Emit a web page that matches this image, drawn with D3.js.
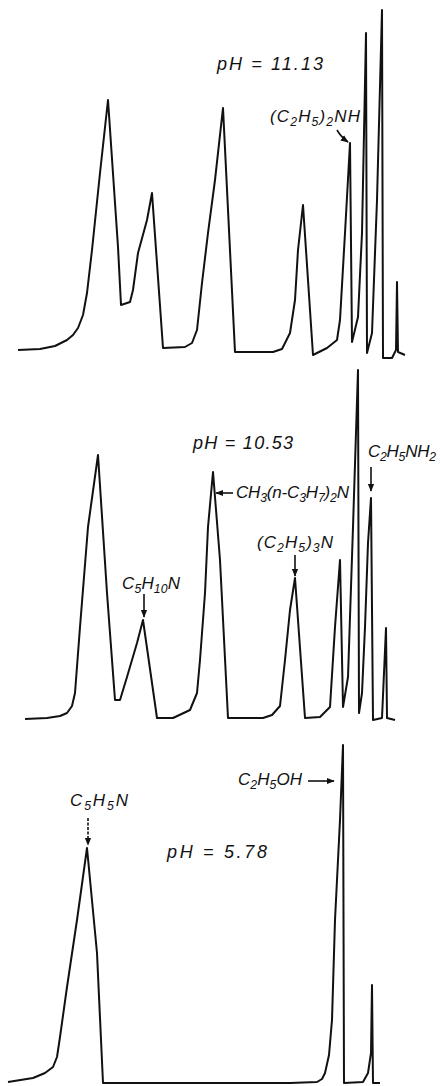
<!DOCTYPE html>
<meta charset="utf-8">
<style>
  body { margin: 0; background-color: #fff; }
  .trace { fill: none; stroke: #111; stroke-width: 2px; stroke-linejoin: round; }
  .lbl { font-family: "Liberation Sans", sans-serif; font-style: italic; fill: #111; }
  .arrow { stroke: #111; stroke-width: 1.6px; fill: none; }
</style>
<svg width="440" height="1086"></svg>
<script src="https://d3js.org/d3.v7.min.js"></script>
<script>
  // panel 1, pH 11.13 : retention position and detector response
  var time1 = [18, 40, 55, 67, 73, 78, 83, 87, 92, 100, 108, 118, 121, 130, 133, 138, 147, 152,
    163, 185, 192, 197, 202, 208, 215, 223, 235, 273, 282, 290, 295, 298, 303,
    313, 327, 337, 340, 345, 350, 352, 358, 362, 366, 367, 372, 377, 382,
    383, 392, 396, 397, 398, 405];
  var resp1 = [2, 3, 6, 12, 17, 24, 37, 59, 102, 179, 252, 105, 47, 50, 62, 99, 132, 159,
    4, 5, 9, 22, 69, 119, 172, 244, 0, 0, 3, 19, 52, 102, 147,
    -3, 4, 12, 32, 119, 209, 10, 35, 119, 319, -1, 19, 152, 342,
    -6, -6, 2, 70, 0, -3];

  // panel 2, pH 10.53
  var time2 = [25, 47, 60, 67, 72, 75, 80, 88, 98, 107, 115, 120, 127, 137, 143,
    157, 173, 190, 197, 200, 205, 208, 213, 220, 228, 263, 272, 280, 285, 290, 295,
    305, 320, 330, 335, 340, 343, 348, 353, 358, 359, 362, 365, 368, 371,
    373, 382, 386, 387, 395];
  var resp2 = [-1, 0, 2, 5, 12, 25, 91, 191, 263, 125, 18, 18, 41, 75, 98,
    0, 0, 8, 25, 58, 125, 191, 246, 158, 0, 0, 3, 12, 58, 108, 140,
    0, 1, 11, 91, 158, 11, 41, 191, 348, 5, 25, 91, 175, 220,
    -2, 0, 90, 0, -2];

  // panel 3, pH 5.78
  var time3 = [8, 33, 45, 53, 57, 60, 67, 77, 87, 97, 103, 290, 317, 322, 325, 329, 332, 335, 340, 343,
    344, 363, 368, 371, 372, 373, 380];
  var resp3 = [1, 5, 10, 16, 26, 46, 96, 163, 235, 130, 0, 0, 1, 4, 10, 28, 63, 163, 263, 338,
    0, 1, 10, 30, 98, 0, 0];

  var pHLabels = ["pH = 11.13", "pH = 10.53", "pH = 5.78"];

  var svg = d3.select("svg");
  var x = d3.scaleLinear().domain([0, 440]).range([0, 440]);

  var panels = [
    { t: time1, r: resp1, base: 352 },
    { t: time2, r: resp2, base: 718 },
    { t: time3, r: resp3, base: 1083 }
  ];

  panels.forEach(function (p) {
    var y = d3.scaleLinear().domain([0, 350]).range([p.base, p.base - 350]);
    var pts = p.t.map(function (d, i) { return [d, p.r[i]]; });
    var line = d3.line()
      .x(function (d) { return x(d[0]); })
      .y(function (d) { return y(d[1]); });
    svg.append("path").attr("class", "trace").attr("d", line(pts));
  });

  svg.append("defs").append("marker")
    .attr("id", "ah").attr("viewBox", "0 0 10 10")
    .attr("refX", 9).attr("refY", 5)
    .attr("markerWidth", 5).attr("markerHeight", 5)
    .attr("orient", "auto")
    .append("path").attr("d", "M0,1 L10,5 L0,9 z").attr("fill", "#111");

  // pH labels
  var pHPos = [[217, 70], [193, 449], [167, 858]];
  var pHWidth = [106, 100, 100];
  pHLabels.forEach(function (s, i) {
    svg.append("text").attr("class", "lbl")
      .attr("x", pHPos[i][0]).attr("y", pHPos[i][1])
      .attr("textLength", pHWidth[i]).attr("lengthAdjust", "spacing")
      .attr("font-size", 18).text(s);
  });

  // formula label helper: parts are [text, isSub]
  function formula(xp, yp, parts, w) {
    var size = 17;
    var t = svg.append("text").attr("class", "lbl")
      .attr("x", xp).attr("y", yp).attr("font-size", size)
      .attr("textLength", w).attr("lengthAdjust", "spacing");
    var prevSub = false;
    parts.forEach(function (p) {
      var ts = t.append("tspan").text(p[0]);
      if (p[1]) {
        ts.attr("font-size", size * 0.72).attr("dy", prevSub ? 0 : 4);
      } else {
        ts.attr("dy", prevSub ? -4 : 0);
      }
      prevSub = p[1];
    });
    return t;
  }

  function arrow(x1, y1, x2, y2, dash) {
    svg.append("line").attr("class", "arrow")
      .attr("x1", x1).attr("y1", y1).attr("x2", x2).attr("y2", y2)
      .attr("stroke-dasharray", dash ? "3,1.5" : null)
      .attr("marker-end", "url(#ah)");
  }

  formula(270, 122, [["(C", 0], ["2", 1], ["H", 0], ["5", 1], [")", 0], ["2", 1], ["NH", 0]], 90);
  svg.append("path").attr("class", "arrow")
    .attr("d", "M337,130 Q341,137 348,142").attr("marker-end", "url(#ah)");

  formula(368, 457, [["C", 0], ["2", 1], ["H", 0], ["5", 1], ["NH", 0], ["2", 1]], 68);
  arrow(371, 467, 371, 491);

  formula(236, 498, [["CH", 0], ["3", 1], ["(n-C", 0], ["3", 1], ["H", 0], ["7", 1], [")", 0], ["2", 1], ["N", 0]], 113);
  arrow(233, 493, 216, 493);

  formula(257, 548, [["(C", 0], ["2", 1], ["H", 0], ["5", 1], [")", 0], ["3", 1], ["N", 0]], 76);
  arrow(295, 555, 295, 576);

  formula(122, 589, [["C", 0], ["5", 1], ["H", 0], ["10", 1], ["N", 0]], 58);
  arrow(144, 594, 144, 617);

  formula(70, 806, [["C", 0], ["5", 1], ["H", 0], ["5", 1], ["N", 0]], 58);
  arrow(88, 818, 88, 845, true);

  formula(238, 785, [["C", 0], ["2", 1], ["H", 0], ["5", 1], ["OH", 0]], 64);
  arrow(308, 781, 334, 781);
</script>
